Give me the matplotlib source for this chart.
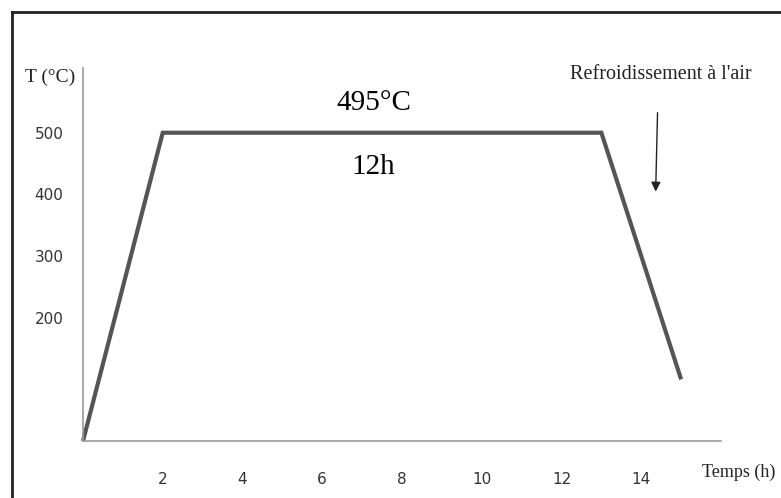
import matplotlib
matplotlib.use('Agg')
import matplotlib.pyplot as plt
from matplotlib.lines import Line2D

# heat treatment cycle
time_h = [0, 2, 13, 15]
temp_c = [0, 500, 500, 100]

x_ticks = [2, 4, 6, 8, 10, 12, 14]
y_ticks = [200, 300, 400, 500]

W, H = 781, 498
fig = plt.figure(figsize=(W / 100, H / 100), dpi=100)
ax = fig.add_axes([83 / W, 57 / H, (721 - 83) / W, (441 - 68) / H])

ax.plot(time_h, temp_c, color='#555555', lw=3, solid_capstyle='butt',
        solid_joinstyle='miter', clip_on=False)

ax.set_xlim(0, 16)
ax.set_ylim(0, 605)
ax.set_xticks(x_ticks)
ax.set_yticks(y_ticks)
ax.tick_params(length=0, labelsize=11, labelcolor='#333333')
ax.tick_params(axis='x', pad=22)
ax.tick_params(axis='y', pad=14)

for side in ['top', 'right']:
    ax.spines[side].set_visible(False)
for side in ['left', 'bottom']:
    ax.spines[side].set_color('#999999')
    ax.spines[side].set_linewidth(1.2)

serif = 'Liberation Serif'
fig.text(25 / W, 1 - 77 / H, 'T (°C)', family=serif, fontsize=14,
         va='center', ha='left', color='#222222')
fig.text(702 / W, 1 - 472 / H, 'Temps (h)', family=serif, fontsize=13,
         va='center', ha='left', color='#222222')

ax.text(7.29, 549, '495°C', family=serif, fontsize=21, ha='center', va='center')
ax.text(7.29, 445, '12h', family=serif, fontsize=21, ha='center', va='center')

ax.text(14.49, 594, "Refroidissement à l'air", family=serif, fontsize=14.5,
        ha='center', va='center', color='#222222', clip_on=False)
ax.annotate('', xy=(14.36, 400), xytext=(14.41, 537),
            arrowprops=dict(arrowstyle='-|>', color='#222222', lw=1,
                            mutation_scale=14), annotation_clip=False)

# outer frame (left and top edges only visible)
x0 = 12 / W
y0 = 1 - 12 / H
fig.add_artist(Line2D([x0, x0], [0, y0], color='#222222', lw=2))
fig.add_artist(Line2D([x0, 1], [y0, y0], color='#222222', lw=2))

fig.savefig('out.png', dpi=100)
